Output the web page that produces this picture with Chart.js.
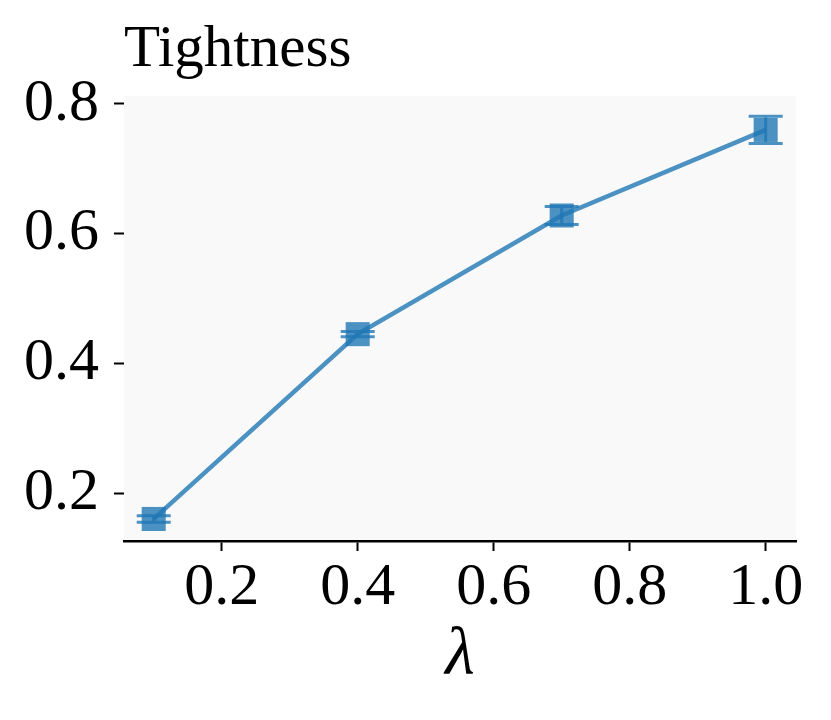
<!DOCTYPE html>
<html><head><meta charset="utf-8">
<script src="https://cdn.jsdelivr.net/npm/chart.js@4"></script>
<style>html,body{margin:0;padding:0;background:#fff}#wrap{width:831px;height:720px}</style>
</head><body><div id="wrap"><canvas id="c" width="831" height="720"></canvas></div>
<script>
const lambdas = [0.1, 0.4, 0.7, 1.0];
const tightness = [0.160, 0.445, 0.628, 0.760];
const tightnessErr = [0.005, 0.004, 0.014, 0.021];
const xTickValues = [0.2, 0.4, 0.6, 0.8, 1.0];
const yTickValues = [0.2, 0.4, 0.6, 0.8];
const chartTitle = 'Tightness';
const xAxisTitle = 'λ';

const SERIF = "'Liberation Serif', 'DejaVu Serif', serif";
const BLUE = 'rgba(31,119,180,0.8)';

const bgPlugin = {
  id: 'bg',
  beforeDraw(chart) {
    const {ctx, chartArea: a} = chart;
    ctx.save();
    ctx.fillStyle = '#ffffff';
    ctx.fillRect(0, 0, chart.width, chart.height);
    ctx.fillStyle = '#f9f9f9';
    ctx.fillRect(a.left, a.top, a.right - a.left, a.bottom - a.top);
    ctx.restore();
  }
};

const errPlugin = {
  id: 'errbars',
  afterDatasetsDraw(chart) {
    const {ctx, scales: {x, y}} = chart;
    ctx.save();
    ctx.strokeStyle = BLUE;
    ctx.lineWidth = 3;
    const cap = 17;
    lambdas.forEach((lv, i) => {
      const px = x.getPixelForValue(lv);
      const lo = y.getPixelForValue(tightness[i] - tightnessErr[i]);
      const hi = y.getPixelForValue(tightness[i] + tightnessErr[i]);
      ctx.beginPath();
      ctx.moveTo(px, lo); ctx.lineTo(px, hi);
      ctx.moveTo(px - cap, lo); ctx.lineTo(px + cap, lo);
      ctx.moveTo(px - cap, hi); ctx.lineTo(px + cap, hi);
      ctx.stroke();
    });
    ctx.restore();
  }
};

new Chart(document.getElementById('c'), {
  type: 'scatter',
  data: {
    datasets: [{
      data: lambdas.map((v, i) => ({x: v, y: tightness[i]})),
      showLine: true,
      borderColor: BLUE,
      borderWidth: 4.5,
      backgroundColor: BLUE,
      pointStyle: 'rect',
      pointRadius: 17,
      pointBorderWidth: 0,
      pointBackgroundColor: BLUE,
      tension: 0
    }]
  },
  options: {
    responsive: false,
    animation: false,
    devicePixelRatio: 1,
    layout: {padding: {top: 0, left: 0, right: 35, bottom: 0}},
    plugins: {
      legend: {display: false},
      tooltip: {enabled: false},
      title: {
        display: true,
        text: chartTitle,
        align: 'start',
        fullSize: false,
        color: '#000',
        font: {family: SERIF, size: 59, weight: 'normal', lineHeight: 1.2},
        padding: {top: 15, bottom: 10.2}
      }
    },
    scales: {
      x: {
        type: 'linear',
        position: 'bottom',
        min: 0.0563,
        max: 1.0446,
        afterBuildTicks: s => { s.ticks = xTickValues.map(v => ({value: v})); },
        afterFit: s => { s.height = 179; },
        ticks: {
          callback: v => Number(v).toFixed(1),
          color: '#000',
          font: {family: SERIF, size: 60, lineHeight: 1},
          padding: 7,
          maxRotation: 0,
          autoSkip: false
        },
        grid: {drawOnChartArea: false, drawTicks: true, tickLength: 10, tickWidth: 2, tickColor: '#000'},
        border: {display: true, color: '#000', width: 2.5},
        title: {
          display: true,
          text: xAxisTitle,
          color: '#000',
          font: {family: SERIF, size: 68, style: 'italic', lineHeight: 1},
          padding: {top: 0, bottom: 30}
        }
      },
      y: {
        type: 'linear',
        min: 0.126,
        max: 0.8123,
        afterBuildTicks: s => { s.ticks = yTickValues.map(v => ({value: v})); },
        afterFit: s => { s.width = 124; },
        ticks: {
          callback: v => Number(v).toFixed(1),
          color: '#000',
          font: {family: SERIF, size: 60, lineHeight: 1},
          padding: 15
        },
        grid: {drawOnChartArea: false, drawTicks: true, tickLength: 10, tickWidth: 2, tickColor: '#000'},
        border: {display: false}
      }
    }
  },
  plugins: [bgPlugin, errPlugin]
});
</script>
</body></html>
